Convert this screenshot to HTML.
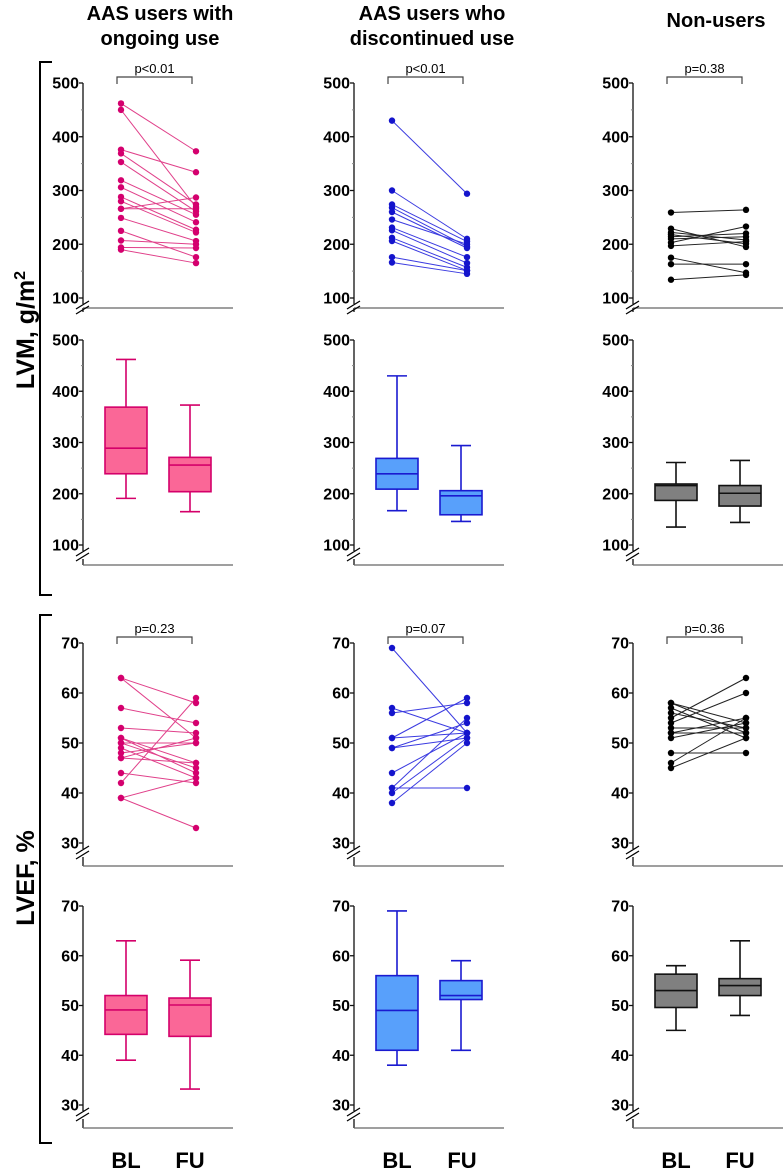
<!DOCTYPE html>
<html><head><meta charset="utf-8"><style>
html,body{margin:0;padding:0;background:#fff;}
svg{display:block;font-family:"Liberation Sans",Arial,sans-serif;}
</style></head><body>
<svg id="fig" width="784" height="1171" viewBox="0 0 784 1171" xmlns="http://www.w3.org/2000/svg">
<g font-weight="bold" font-size="20" text-anchor="middle" fill="#000">
<text x="160" y="20">AAS users with</text>
<text x="160" y="45">ongoing use</text>
<text x="432" y="20">AAS users who</text>
<text x="432" y="45">discontinued use</text>
<text x="716" y="27">Non-users</text>
</g>
<g stroke="#000" stroke-width="2" fill="none">
<path d="M52,62 H40 V595 H52"/>
<path d="M52,615 H40 V1143 H52"/>
</g>
<text transform="translate(34,330) rotate(-90)" text-anchor="middle" font-size="25" font-weight="bold">LVM, g/m<tspan dy="-9" font-size="16">2</tspan></text>
<text transform="translate(34,878) rotate(-90)" text-anchor="middle" font-size="25" font-weight="bold">LVEF, %</text>
<g font-size="22" font-weight="bold" text-anchor="middle">
<text x="126" y="1168">BL</text>
<text x="190" y="1168">FU</text>
<text x="397" y="1168">BL</text>
<text x="462" y="1168">FU</text>
<text x="676" y="1168">BL</text>
<text x="740" y="1168">FU</text>
</g>
</svg>
<script>
// ---- data ----
const groups = ["ongoing", "discontinued", "non-users"];
const lvmTicks = [100, 200, 300, 400, 500];
const lvefTicks = [30, 40, 50, 60, 70];
const pValuesLVM = ["p<0.01", "p<0.01", "p=0.38"];
const pValuesLVEF = ["p=0.23", "p=0.07", "p=0.36"];
// paired LVM
const lvmBL1 = [462,450,376,369,353,319,306,288,280,266,266,249,225,207,194,190];
const lvmFU1 = [373,269,334,274,261,255,241,227,222,287,266,206,176,200,193,165];
const lvmBL2 = [430,300,274,268,260,246,231,226,212,206,176,166];
const lvmFU2 = [294,210,205,196,193,200,176,165,157,151,151,145];
const lvmBL3 = [259,229,222,218,214,210,203,197,175,163,134];
const lvmFU3 = [264,195,208,201,220,214,233,205,147,163,143];
// paired LVEF
const lvefBL1 = [63,63,57,53,51,51,50,50,49,48,47,47,44,42,39,39];
const lvefFU1 = [58,51,54,52,46,44,50,45,43,50,51,46,42,59,43,33];
const lvefBL2 = [69,57,56,51,51,49,49,44,41,41,40,38];
const lvefFU2 = [52,52,58,59,52,51,54,52,41,55,51,50];
const lvefBL3 = [58,58,57,56,55,54,53,52,52,51,48,46,45];
const lvefFU3 = [52,54,51,53,63,60,53,52,55,54,48,55,51];
// box stats [min,q1,median,q3,max]
const lvmBoxBL = [[191,239,289,369,462],[167,209,239,269,430],[135,187,216,219,261]];
const lvmBoxFU = [[165,204,256,271,373],[146,159,196,206,294],[144,176,201,216,265]];
const lvefBoxBL = [[39,44.2,49.1,52,63],[38,41,49,56,69],[45,49.6,53,56.3,58]];
const lvefBoxFU = [[33.2,43.8,50.1,51.5,59.1],[41,51.2,52,55,59],[48,52,54,55.4,63]];

// ---- layout ----
const NS = "http://www.w3.org/2000/svg";
const svg = document.getElementById("fig");
const axisX = [83, 354, 633];
const colors = [
  {pt:"#d4006e", line:"#e0408a", fill:"#fa6797", stroke:"#d4006a"},
  {pt:"#1414cc", line:"#3b3be0", fill:"#58a0fb", stroke:"#1a1ad0"},
  {pt:"#000", line:"#222", fill:"#808080", stroke:"#111"}
];
const rows = [
  {vmin:100,vmax:500,ytop:83,ybot:298,xline:308,ticks:lvmTicks,minor:50},
  {vmin:100,vmax:500,ytop:340,ybot:545,xline:565,ticks:lvmTicks,minor:50},
  {vmin:30,vmax:70,ytop:643,ybot:843,xline:866,ticks:lvefTicks,minor:0},
  {vmin:30,vmax:70,ytop:906,ybot:1105,xline:1128,ticks:lvefTicks,minor:0}
];
function yScale(r, v){ return r.ybot - (v - r.vmin) / (r.vmax - r.vmin) * (r.ybot - r.ytop); }
function mk(tag, attrs, parent){
  const e = document.createElementNS(NS, tag);
  for (const k in attrs) e.setAttribute(k, attrs[k]);
  (parent || svg).appendChild(e);
  return e;
}

function drawAxes(r, c, ri){
  const ax = axisX[c];
  const g = mk("g", {});
  
  
  mk("line", {x1:ax, y1:r.ytop, x2:ax, y2:r.ybot+6, stroke:"#111", "stroke-width":1.3}, g);
  mk("line", {x1:ax, y1:r.ybot+14, x2:ax, y2:r.xline, stroke:"#111", "stroke-width":1.3}, g);
  mk("line", {x1:ax, y1:r.xline, x2:ax+150, y2:r.xline, stroke:"#666", "stroke-width":1.3}, g);
  mk("line", {x1:ax-7, y1:r.ybot+11, x2:ax+6, y2:r.ybot+3, stroke:"#000", "stroke-width":1.3}, g);
  mk("line", {x1:ax-7, y1:r.ybot+16, x2:ax+6, y2:r.ybot+8, stroke:"#000", "stroke-width":1.3}, g);
  if (r.minor > 0){
    for (let v = r.vmin; v <= r.vmax; v += r.minor){
      const y = yScale(r, v);
      mk("line", {x1:ax-2, y1:y, x2:ax, y2:y, stroke:"#888", "stroke-width":1}, g);
    }
  }
  r.ticks.forEach(v => {
    const y = yScale(r, v);
    mk("line", {x1:ax-4, y1:y, x2:ax, y2:y, stroke:"#111", "stroke-width":1.3}, g);
    const t = mk("text", {x:ax-4, y:y+5.5, "text-anchor":"end", "font-size":16, "font-weight":"bold"}, g);
    
    
    t.textContent = v;
  });
}

function drawPaired(r, c, ri, bl, fu, pval){
  const ax = axisX[c];
  const xb = ax + 38, xf = ax + 113;
  const col = colors[c];
  const g = mk("g", {});
  
  
  const by = r.ytop - 6;
  const br = mk("path", {d:`M${xb-4},${by+7} V${by} H${xf-4} V${by+7}`, fill:"none", stroke:"#444", "stroke-width":1.2}, g);
  
  
  const pt = mk("text", {x:(xb+xf)/2-4, y:by-4, "text-anchor":"middle", "font-size":13}, g);
  
  
  pt.textContent = pval;
  for (let i = 0; i < bl.length; i++){
    const l = mk("line", {x1:xb, y1:yScale(r, bl[i]), x2:xf, y2:yScale(r, fu[i]), stroke:col.line, "stroke-width":1}, g);
    
    
  }
  for (let i = 0; i < bl.length; i++){
    const a = mk("circle", {cx:xb, cy:yScale(r, bl[i]), r:3.2, fill:col.pt}, g);
    
    
    const b = mk("circle", {cx:xf, cy:yScale(r, fu[i]), r:3.2, fill:col.pt}, g);
    
    
  }
}

function drawBox(r, c, ri, stat, xc, label){
  const col = colors[c];
  const g = mk("g", {});
  
  
  const [mn, q1, md, q3, mx] = stat;
  const w = 42, cw = 20;
  const s = {stroke:col.stroke, "stroke-width":1.6};
  mk("line", Object.assign({x1:xc, y1:yScale(r, mx), x2:xc, y2:yScale(r, q3)}, s), g);
  mk("line", Object.assign({x1:xc, y1:yScale(r, q1), x2:xc, y2:yScale(r, mn)}, s), g);
  mk("line", Object.assign({x1:xc-cw/2, y1:yScale(r, mx), x2:xc+cw/2, y2:yScale(r, mx)}, s), g);
  mk("line", Object.assign({x1:xc-cw/2, y1:yScale(r, mn), x2:xc+cw/2, y2:yScale(r, mn)}, s), g);
  mk("rect", Object.assign({x:xc-w/2, y:yScale(r, q3), width:w, height:yScale(r, q1)-yScale(r, q3), fill:col.fill}, s), g);
  mk("line", Object.assign({x1:xc-w/2, y1:yScale(r, md), x2:xc+w/2, y2:yScale(r, md)}, s), g);
}

const lvmBL = [lvmBL1, lvmBL2, lvmBL3], lvmFU = [lvmFU1, lvmFU2, lvmFU3];
const lvefBL = [lvefBL1, lvefBL2, lvefBL3], lvefFU = [lvefFU1, lvefFU2, lvefFU3];
for (let c = 0; c < 3; c++){
  rows.forEach((r, ri) => drawAxes(r, c, ri));
  drawPaired(rows[0], c, 0, lvmBL[c], lvmFU[c], pValuesLVM[c]);
  drawPaired(rows[2], c, 2, lvefBL[c], lvefFU[c], pValuesLVEF[c]);
  const ax = axisX[c];
  drawBox(rows[1], c, 1, lvmBoxBL[c], ax+43, "bl");
  drawBox(rows[1], c, 1, lvmBoxFU[c], ax+107, "fu");
  drawBox(rows[3], c, 3, lvefBoxBL[c], ax+43, "bl");
  drawBox(rows[3], c, 3, lvefBoxFU[c], ax+107, "fu");
}
</script>
</body></html>
